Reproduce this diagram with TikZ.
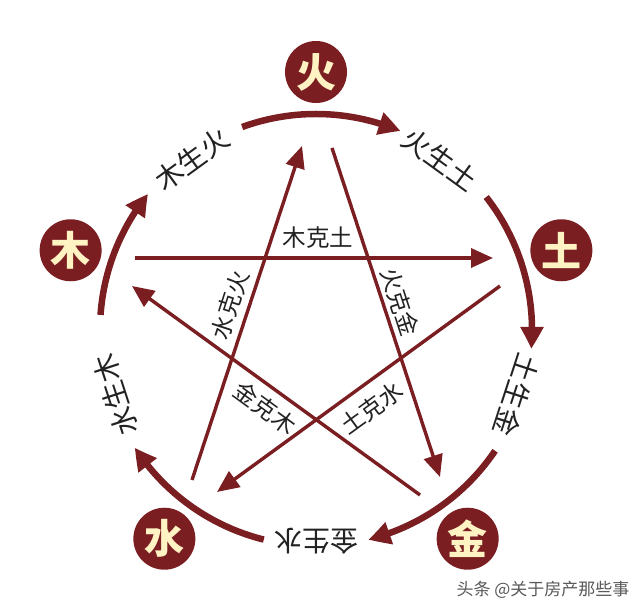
\documentclass[tikz,border=0pt]{standalone}
\usepackage{fontspec}
\newfontfamily\cjk{Noto Sans CJK SC}
\usetikzlibrary{arrows.meta,bending,calc}
\definecolor{maroon}{HTML}{7B1E22}
\definecolor{cream}{HTML}{FFF3C4}
\definecolor{inkc}{HTML}{222222}
\begin{document}
\begin{tikzpicture}[x=1pt,y=1pt,
  elem/.style={circle, fill=maroon, minimum size=62pt, inner sep=0pt, text=cream, font=\cjk\bfseries\fontsize{40}{40}\selectfont},
  shenglbl/.style={text=inkc, font=\cjk\fontsize{28}{28}\selectfont, inner sep=0pt},
  kelbl/.style={text=inkc, font=\cjk\fontsize{23.5}{23.5}\selectfont, inner sep=0pt},
  shengarc/.style={draw=maroon, line width=6.5pt, -{Triangle[length=22pt,width=22pt,bend]}},
  kearrow/.style={draw=maroon, line width=3.4pt, -{Triangle[length=22pt,width=19pt]}},
]
\fill[white] (0,0) rectangle (640,612);
\useasboundingbox (0,0) rectangle (640,612);
\coordinate (c) at (316,282);

% element circles
\node[elem] (huo) at ($(c)+(90:258)$) {火};
\node[elem] (tu)  at ($(c)+(18:258)$) {土};
\node[elem] (jin) at ($(c)+(-54:258)$) {金};
\node[elem] (shui) at ($(c)+(234:258)$) {水};
\node[elem] (mu)  at ($(c)+(162:258)$) {木};

% sheng arcs
\draw[shengarc] ($(c)+(110:216)$) arc[start angle=110, end angle=67, radius=216];
\draw[shengarc] ($(c)+(38:216)$) arc[start angle=38, end angle=-5, radius=216];
\draw[shengarc] ($(c)+(-34:216)$) arc[start angle=-34, end angle=-76, radius=216];
\draw[shengarc] ($(c)+(256:216)$) arc[start angle=256, end angle=213, radius=216];
\draw[shengarc] ($(c)+(176:216)$) arc[start angle=176, end angle=141, radius=216];

% sheng labels
\node[shenglbl, rotate=36]  (l1) at ($(c)+(126:211)$) {木生火};
\node[shenglbl, rotate=-36] (l2) at ($(c)+(54:211)$) {火生土};
\node[shenglbl, rotate=-108] (l3) at ($(c)+(-18:211)$) {土生金};
\node[shenglbl, rotate=180] (l4) at ($(c)+(-90:211)$) {金生水};
\node[shenglbl, rotate=108] (l5) at ($(c)+(198:211)$) {水生木};

% ke arrows
\coordinate (muS) at (135,354);  \coordinate (tuE) at (493,354);
\coordinate (huoS) at (332,464); \coordinate (jinE) at (440,135);
\coordinate (tuS) at (500,326);  \coordinate (shuiE) at (217,120);
\coordinate (jinS) at (420,117); \coordinate (muE) at (132,326);
\coordinate (shuiS) at (192,132); \coordinate (huoE) at (302,466);
\draw[kearrow] (muS) -- (tuE);
\draw[kearrow] (huoS) -- (jinE);
\draw[kearrow] (tuS) -- (shuiE);
\draw[kearrow] (jinS) -- (muE);
\draw[kearrow] (shuiS) -- (huoE);

% ke labels
\node[kelbl] (k1) at (318,374) {木克土};
\node[kelbl, rotate=72] (k2) at (230,307) {水克火};
\node[kelbl, rotate=-72] (k3) at (400,310) {火克金};
\node[kelbl, rotate=-36] (k4) at (265,204) {金克木};
\node[kelbl, rotate=36] (k5) at (372,204) {土克水};

% watermark
\node[text=black!65, font=\cjk\fontsize{17}{17}\selectfont, inner sep=0pt] (wm) at (543,22) {头条 @关于房产那些事};
\end{tikzpicture}
\end{document}
